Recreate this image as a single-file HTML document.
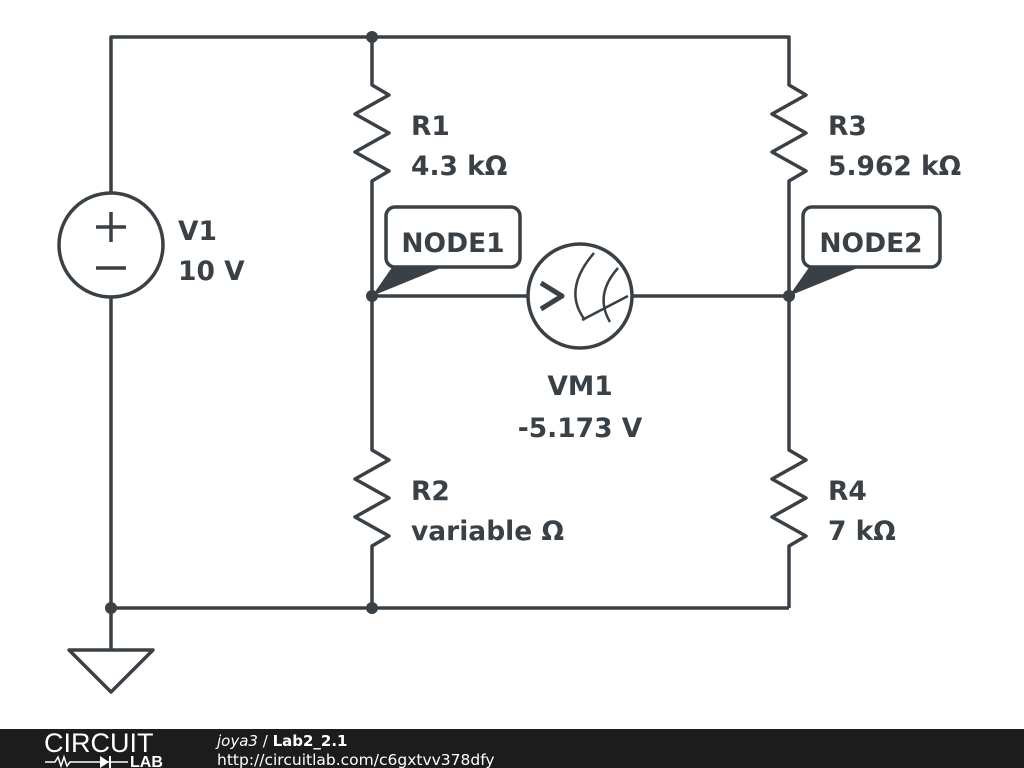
<!DOCTYPE html>
<html><head><meta charset="utf-8"><style>
body{margin:0;width:1024px;height:768px;overflow:hidden;background:#fff}
svg{display:block}
text{font-family:"DejaVu Sans","Liberation Sans",sans-serif;font-weight:bold;font-size:26.5px;fill:#3a4146}
</style></head><body>
<svg width="1024" height="768" viewBox="0 0 1024 768">
<g stroke="#3a4146" stroke-width="3.5" fill="none" stroke-linejoin="round">
<polyline points="111,193 111,37 789,37 789,80"/>
<line x1="372" y1="37" x2="372" y2="80"/>
<polyline points="372,80 372,85 389,95 355,114 389,133 355,152 389,171 372,181 372,195"/>
<polyline points="789,80 789,85 806,95 772,114 806,133 772,152 806,171 789,181 789,195"/>
<line x1="372" y1="195" x2="372" y2="445"/>
<line x1="789" y1="195" x2="789" y2="445"/>
<polyline points="372,445 372,450 389,460 355,479 389,498 355,517 389,536 372,546 372,565 372,608"/>
<polyline points="789,445 789,450 806,460 772,479 806,498 772,517 806,536 789,546 789,565 789,608"/>
<line x1="111" y1="297" x2="111" y2="650"/>
<line x1="111" y1="608" x2="789" y2="608"/>
<polygon points="69,650 153,650 111,692"/>
<circle cx="111" cy="245" r="52"/>
<line x1="96" y1="227" x2="126" y2="227"/><line x1="111" y1="212" x2="111" y2="242"/>
<line x1="96" y1="268" x2="126" y2="268"/>
<line x1="372" y1="296" x2="528" y2="296"/>
<line x1="632" y1="296" x2="789" y2="296"/>
<circle cx="580" cy="296" r="52"/>
<polyline points="541,283 562,296 541,309" stroke-width="5"/>
<path d="M594,253 Q562,290 585,320" stroke-width="2.5"/>
<path d="M618,268 Q594,295 610,322" stroke-width="2.5"/>
<line x1="582" y1="320" x2="628" y2="296" stroke-width="2.5"/>
<rect x="386" y="207" width="134" height="60" rx="9"/>
<rect x="803" y="207" width="137" height="60" rx="9"/>
</g>
<g fill="#3a4146">
<polygon points="372,296 393,266 443,267"/>
<polygon points="789,296 810,266 860,267"/>
<circle cx="372" cy="37" r="6"/><circle cx="372" cy="296" r="6"/><circle cx="789" cy="296" r="6"/>
<circle cx="111" cy="608" r="6"/><circle cx="372" cy="608" r="6"/>
</g>
<text x="411" y="135">R1</text><text x="411" y="175">4.3 kΩ</text>
<text x="828" y="135">R3</text><text x="828" y="175">5.962 kΩ</text>
<text x="178" y="240">V1</text><text x="178" y="280">10 V</text>
<text x="453" y="252" text-anchor="middle">NODE1</text>
<text x="871" y="252" text-anchor="middle">NODE2</text>
<text x="580" y="395" text-anchor="middle">VM1</text><text x="580" y="437" text-anchor="middle">-5.173 V</text>
<text x="411" y="500">R2</text><text x="411" y="540">variable Ω</text>
<text x="828" y="500">R4</text><text x="828" y="540">7 kΩ</text>
<rect x="0" y="729" width="1024" height="39" fill="#1c1c1c"/>
<text x="44" y="752" style="font-family:'Liberation Sans',sans-serif;font-weight:normal;font-size:27px;fill:#fff;letter-spacing:0px">CIRCUIT</text>
<text x="130" y="767" style="font-family:'Liberation Sans',sans-serif;font-size:16px;fill:#fff">LAB</text>
<polyline points="45,762 55,762 58,757 61,766 64,757 67,766 70,762 128,762" stroke="#fff" stroke-width="1.5" fill="none"/>
<polygon points="100,756 100,768 109,762" fill="#fff"/><line x1="110" y1="756" x2="110" y2="768" stroke="#fff" stroke-width="2"/>
<text x="217" y="746" style="font-size:15px;fill:#fff"><tspan style="font-style:italic;font-weight:normal">joya3</tspan><tspan style="font-weight:normal"> / </tspan>Lab2_2.1</text>
<text x="217" y="765" style="font-size:15.5px;font-weight:normal;fill:#fff">http://circuitlab.com/c6gxtvv378dfy</text>
</svg>
</body></html>
